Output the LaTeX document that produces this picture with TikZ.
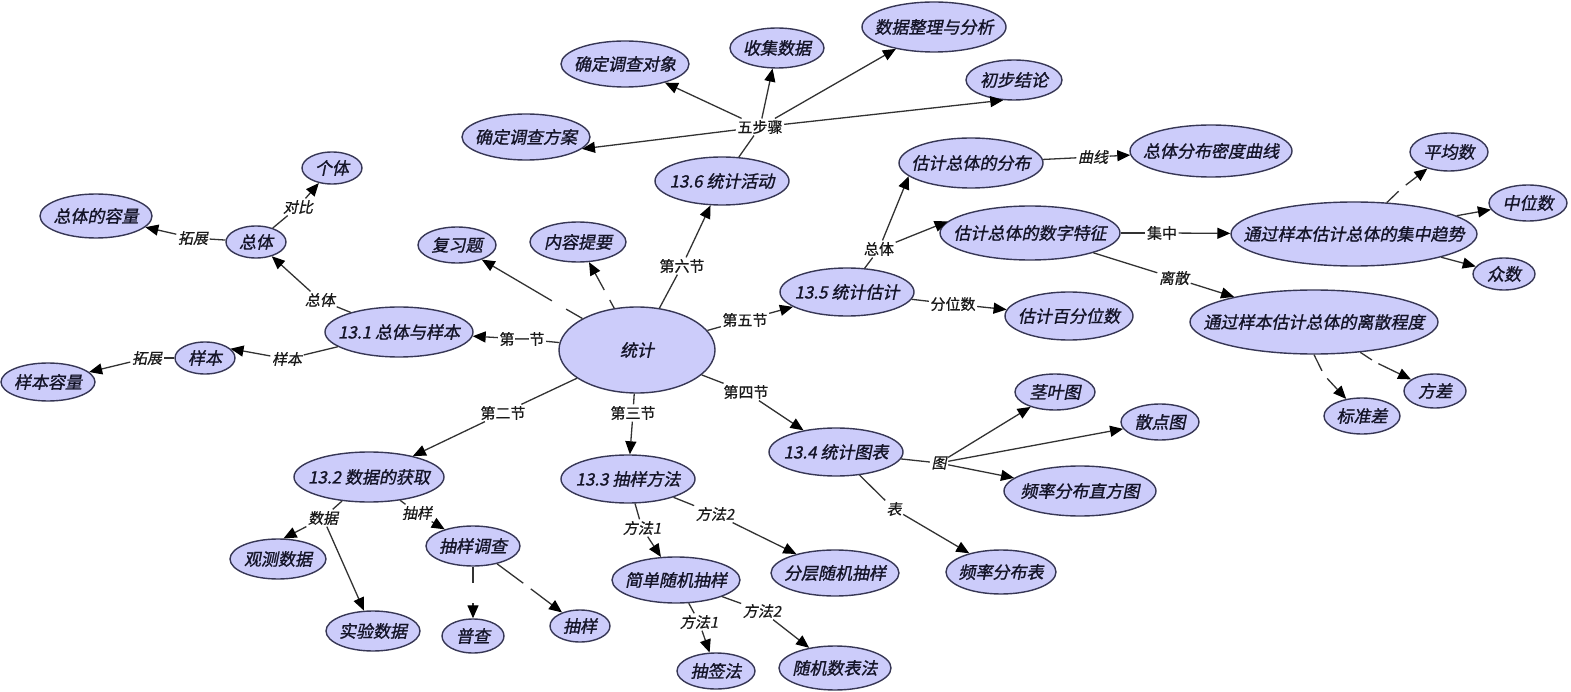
\documentclass[tikz,border=0pt]{standalone}
\usepackage{fontspec}
\setmainfont{Noto Sans CJK SC}
\newfontfamily\cjki{Noto Sans CJK SC}[FakeSlant=0.2,FakeBold=1.2]
\newfontfamily\cjkl{Noto Sans CJK SC}[FakeSlant=0.2,FakeBold=0.6]
\newfontfamily\cjku{Noto Sans CJK SC}[FakeBold=0.6]
\usetikzlibrary{shapes.geometric,arrows.meta}
\definecolor{cfill}{RGB}{204,204,250}
\definecolor{cdraw}{RGB}{55,55,85}
\definecolor{ctext}{RGB}{20,20,40}
\definecolor{lcol}{RGB}{50,50,50}
\tikzset{
  cpt/.style={ellipse, draw=cdraw, fill=cfill, line width=1.4pt, inner sep=0pt, text=ctext,
    font=\cjki\fontsize{17}{20}\selectfont},
  lnk/.style={fill=white, inner sep=1.5pt, text=black!90, font=\cjkl\fontsize{15}{18}\selectfont},
  lnku/.style={lnk, font=\cjku\fontsize{15}{18}\selectfont},
  gap/.style={circle, inner sep=0pt},
  ln/.style={draw=lcol, line width=1.3pt},
  arr/.style={ln, -{Triangle[length=13pt,width=11pt,color=black]}}
}
\newcommand\cnode[6]{\node[cpt,minimum width=#4pt,minimum height=#5pt] (#1) at (#2,#3) {\makebox[0pt]{#6}};}
\begin{document}
\begin{tikzpicture}[x=1pt,y=-1pt]
\useasboundingbox (0,0) rectangle (1571,692);
% concepts
\cnode{tj}{637}{350}{156}{86}{统计}
\cnode{s1}{399}{332}{148}{50}{13.1 总体与样本}
\cnode{zt}{256}{242}{60}{32}{总体}
\cnode{gt}{332}{168}{60}{32}{个体}
\cnode{ztdrl}{96}{216}{112}{44}{总体的容量}
\cnode{yb}{205}{358}{60}{32}{样本}
\cnode{ybrl}{48}{382}{94}{38}{样本容量}
\cnode{fxt}{457}{245}{78}{36}{复习题}
\cnode{nrty}{578}{242}{96}{40}{内容提要}
\cnode{s6}{722}{181}{134}{48}{13.6 统计活动}
\cnode{fa}{526}{137}{128}{46}{确定调查方案}
\cnode{dx}{625}{64}{128}{46}{确定调查对象}
\cnode{sj}{777}{48}{94}{40}{收集数据}
\cnode{zl}{934}{27}{144}{50}{数据整理与分析}
\cnode{jl}{1014}{80}{96}{40}{初步结论}
\cnode{s5}{847}{292}{134}{48}{13.5 统计估计}
\cnode{fb}{971}{163}{144}{50}{估计总体的分布}
\cnode{mdqx}{1211}{151}{162}{52}{总体分布密度曲线}
\cnode{tz}{1030}{233}{180}{54}{估计总体的数字特征}
\cnode{bfw}{1069}{316}{128}{48}{估计百分位数}
\cnode{jzqs}{1354}{234}{246}{64}{通过样本估计总体的集中趋势}
\cnode{pjs}{1449}{152}{78}{38}{平均数}
\cnode{zws}{1528}{203}{78}{36}{中位数}
\cnode{zs}{1504}{274}{62}{32}{众数}
\cnode{lscd}{1314}{322}{248}{64}{通过样本估计总体的离散程度}
\cnode{bzc}{1362}{416}{76}{36}{标准差}
\cnode{fc}{1435}{391}{62}{34}{方差}
\cnode{s4}{836}{452}{134}{48}{13.4 统计图表}
\cnode{jyt}{1055}{392}{80}{36}{茎叶图}
\cnode{sdt}{1160}{422}{78}{36}{散点图}
\cnode{zft}{1080}{491}{152}{50}{频率分布直方图}
\cnode{fbb}{1001}{572}{110}{44}{频率分布表}
\cnode{s3}{628}{479}{134}{48}{13.3 抽样方法}
\cnode{jd}{676}{580}{128}{46}{简单随机抽样}
\cnode{fc2}{835}{573}{128}{46}{分层随机抽样}
\cnode{cqf}{716}{671}{78}{36}{抽签法}
\cnode{sjsbf}{835}{668}{112}{44}{随机数表法}
\cnode{s2}{369}{477}{150}{50}{13.2 数据的获取}
\cnode{gcsj}{278}{559}{96}{40}{观测数据}
\cnode{sysj}{373}{631}{94}{40}{实验数据}
\cnode{cydc}{473}{546}{94}{40}{抽样调查}
\cnode{pc}{473}{636}{62}{34}{普查}
\cnode{cy}{580}{626}{60}{32}{抽样}
% linking phrases
\node[lnku] (L1) at (522,339) {第一节};
\node[lnku] (L2) at (503,413) {第二节};
\node[lnku] (L3) at (633,413) {第三节};
\node[lnku] (L4) at (746,392) {第四节};
\node[lnku] (L5) at (745,320) {第五节};
\node[lnku] (L6) at (682,266) {第六节};
\node[lnk] (L7) at (320,300) {总体};
\node[lnk] (L8) at (287,359) {样本};
\node[lnk] (L9) at (193,238) {拓展};
\node[lnk] (L10) at (298,207) {对比};
\node[lnk] (L11) at (147,358) {拓展};
\node[lnku] (L12) at (760,127) {五步骤};
\node[lnku] (L13) at (879,249) {总体};
\node[lnku] (L14) at (953,304) {分位数};
\node[lnk] (L15) at (1093,157) {曲线};
\node[lnku] (L16) at (1162,233) {集中};
\node[lnk] (L17) at (1174,278) {离散};
\node[lnk] (L18) at (939,463) {图};
\node[lnk] (L19) at (894,509) {表};
\node[lnk] (L20) at (642,528) {方法1};
\node[lnk] (L21) at (715,514) {方法2};
\node[lnk] (L22) at (699,622) {方法1};
\node[lnk] (L23) at (762,611) {方法2};
\node[lnk] (L24) at (323,518) {数据};
\node[lnk] (L25) at (417,513) {抽样};
% empty links (gaps)
\node[gap,minimum size=16pt] (E1) at (559,305) {};
\node[gap,minimum size=11pt] (E2) at (607,295) {};
\node[gap,minimum size=9pt] (E3) at (1402,188) {};
\node[gap,minimum size=9pt] (E4) at (1324,375) {};
\node[gap,minimum size=7pt] (E5) at (1375,362) {};
\node[gap,minimum size=20pt] (E6) at (473,593) {};
\node[gap,minimum size=9pt] (E7) at (527,586) {};
% connectors
\draw[ln] (tj) -- (L1); \draw[arr] (L1) -- (s1);
\draw[ln] (tj) -- (L2); \draw[arr] (L2) -- (s2);
\draw[ln] (tj) -- (L3); \draw[arr] (L3) -- (s3);
\draw[ln] (tj) -- (L4); \draw[arr] (L4) -- (s4);
\draw[ln] (tj) -- (L5); \draw[arr] (L5) -- (s5);
\draw[ln] (tj) -- (L6); \draw[arr] (L6) -- (s6);
\draw[ln] (tj) -- (E1); \draw[arr] (E1) -- (fxt);
\draw[ln] (tj) -- (E2); \draw[arr] (E2) -- (nrty);
\draw[ln] (s1) -- (L7); \draw[arr] (L7) -- (zt);
\draw[ln] (s1) -- (L8); \draw[arr] (L8) -- (yb.20);
\draw[ln] (zt) -- (L9); \draw[arr] (L9) -- (ztdrl);
\draw[ln] (zt) -- (L10); \draw[arr] (L10) -- (gt);
\draw[ln] (yb) -- (L11); \draw[arr] (L11) -- (ybrl);
\draw[ln] (s6) -- (L12);
\draw[arr] (L12) -- (dx);
\draw[arr] (L12) -- (sj);
\draw[arr] (L12) -- (zl);
\draw[arr] (L12) -- (jl.-118);
\draw[arr] (L12) -- (fa.-12);
\draw[ln] (s5) -- (L13); \draw[arr] (L13) -- (fb.-168); \draw[arr] (L13) -- (tz.172);
\draw[ln] (s5) -- (L14); \draw[arr] (L14) -- (bfw);
\draw[ln] (fb) -- (L15); \draw[arr] (L15) -- (mdqx);
\draw[ln] (tz) -- (L16); \draw[arr] (L16) -- (jzqs);
\draw[ln] (tz) -- (L17); \draw[arr] (L17) -- (lscd);
\draw[ln] (jzqs) -- (E3); \draw[arr] (E3) -- (pjs);
\draw[arr] (jzqs) -- (zws);
\draw[arr] (jzqs) -- (zs);
\draw[ln] (lscd.south) -- (E4); \draw[arr] (E4) -- (bzc);
\draw[ln] (lscd) -- (E5); \draw[arr] (E5) -- (fc);
\draw[ln] (s4) -- (L18); \draw[arr] (L18) -- (jyt); \draw[arr] (L18) -- (sdt); \draw[arr] (L18) -- (zft);
\draw[ln] (s4) -- (L19); \draw[arr] (L19) -- (fbb);
\draw[ln] (s3) -- (L20); \draw[arr] (L20) -- (jd);
\draw[ln] (s3) -- (L21); \draw[arr] (L21) -- (fc2);
\draw[ln] (jd) -- (L22); \draw[arr] (L22) -- (cqf);
\draw[ln] (jd) -- (L23); \draw[arr] (L23) -- (sjsbf);
\draw[ln] (s2) -- (L24); \draw[arr] (L24) -- (gcsj.75); \draw[arr] (L24) -- (sysj);
\draw[ln] (s2) -- (L25); \draw[arr] (L25) -- (cydc);
\draw[ln] (cydc) -- (E6); \draw[arr] (E6) -- (pc);
\draw[ln] (cydc) -- (E7); \draw[arr] (E7) -- (cy);
\end{tikzpicture}
\end{document}
